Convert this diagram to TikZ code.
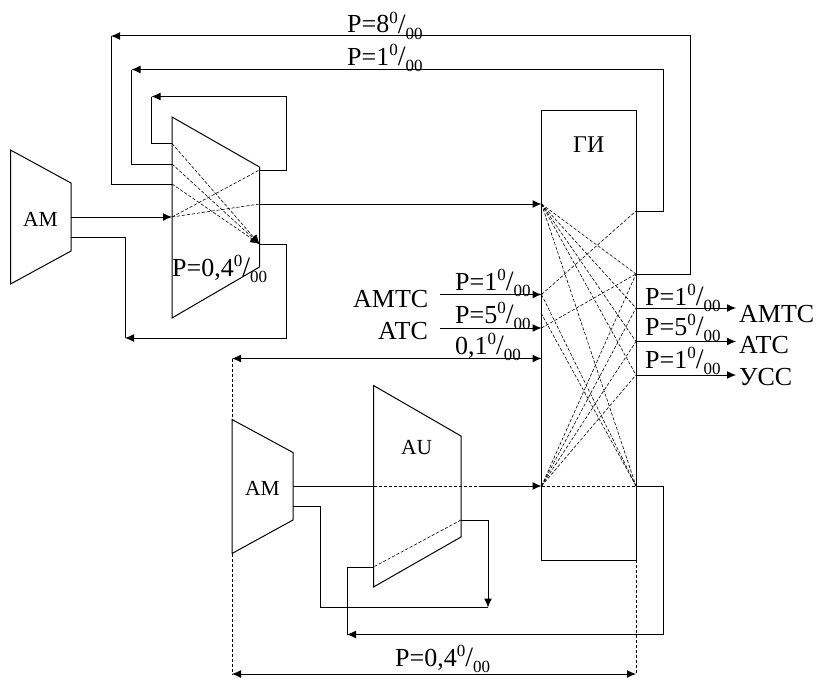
\documentclass[tikz,border=0pt]{standalone}
\usepackage{fontspec}
\setmainfont{Liberation Serif}
\usetikzlibrary{arrows.meta}
\newcommand{\pmil}[1]{#1\raisebox{.38em}{\fontsize{17}{17}\selectfont 0}\raisebox{-.02em}{\fontsize{28}{28}\selectfont /}\raisebox{-.25em}{\fontsize{17}{17}\selectfont 00}}
\tikzset{
  wire/.style={line width=1pt,draw=black},
  flow/.style={wire,-{Latex[length=9pt,width=8pt]}},
  both/.style={wire,{Latex[length=9pt,width=8pt]}-{Latex[length=9pt,width=8pt]}},
  link/.style={line width=0.6pt,draw=black,dash pattern=on 3.2pt off 1.8pt},
  guide/.style={line width=0.7pt,draw=black,dash pattern=on 3.2pt off 1.8pt},
  lab/.style={anchor=base west,inner sep=0pt,font=\fontsize{26}{26}\selectfont},
  labs/.style={anchor=base west,inner sep=0pt,font=\fontsize{21.5}{22}\selectfont},
}
\begin{document}
\begin{tikzpicture}[x=1pt,y=-1pt]
\useasboundingbox (0,0) rectangle (818,677);
% --- switching block ports
\foreach \n/\x/\y in {
  gtl/541.5/110, gtr/636/110, gbr/636/560, gbl/541.5/560,
  gi1/541.5/204, gi2/541.5/294.5, gi3/541.5/328, gi4/541.5/358.5, gi5/541.5/486, gi6/541/313,
  go1/636/211, go2/636/274, go3/636/308, go4/636/341.5, go5/636/375, go6/636/486,
  ma/172/117, mb/259.5/167, mc/259.5/267, md/172/318,
  mi1/172/143.5, mi2/172/164, mi3/172/184, mi4/172/217,
  mo1/259.5/170, mo2/259.5/204, mo3/259.5/244,
  aa/10.5/150, ab/71/183, ac/71/251, ad/10.5/284,
  ao1/71/217, ao2/71/237.5,
  ba/232/419.5, bb/293/452.5, bc/293/520, bd/232/553.5,
  bo1/293/486, bo2/293/506.5,
  ua/373.5/385.5, ub/461/436, uc/461/537, ud/373.5/587,
  ui1/373.5/486, uo1/461/486, ur/480/486, uo2/461/520, ui2/373.5/567,
  k1/690/274, k2/690/36, k3/111/36, k4/111/184,
  l1/663/211, l2/663/69.5, l3/131.5/69.5, l4/131.5/164,
  n1/286/170, n2/286/96.5, n3/151.5/96.5, n4/151.5/143.5,
  p1/125/237.5, p2/125/338, p3/286/338, p4/286/244,
  q1/320/506.5, q2/320/607.5, q3/488/607.5, q4/488/520,
  r1/663/486, r2/663/634.5, r3/347/634.5, r4/347/567,
  ia/440/294.5, ib/440/328, oa/736/308, ob/736/341.5, oc/736/375,
  da/232/358.5, dl/232/674, dr/636/674}
  {\coordinate (\n) at (\x,\y);}
% --- blocks
\draw[wire] (aa) -- (ab) -- (ac) -- (ad) -- cycle;
\draw[wire] (ma) -- (mb) -- (mc) -- (md) -- cycle;
\draw[wire] (ba) -- (bb) -- (bc) -- (bd) -- cycle;
\draw[wire] (ua) -- (ub) -- (uc) -- (ud) -- cycle;
\draw[wire] (gtl) -- (gtr) -- (gbr) -- (gbl) -- cycle;
% --- feedback loops
\draw[flow] (go2) -- (k1) -- (k2) -- (k3);
\draw[wire] (k3) -- (k4) -- (mi3);
\draw[flow] (go1) -- (l1) -- (l2) -- (l3);
\draw[wire] (l3) -- (l4) -- (mi2);
\draw[flow] (mo1) -- (n1) -- (n2) -- (n3);
\draw[wire] (n3) -- (n4) -- (mi1);
\draw[wire] (ao2) -- (p1) -- (p2);
\draw[flow] (mo3) -- (p4) -- (p3) -- (p2);
\draw[flow] (ao1) -- (mi4);
\draw[flow] (mo2) -- (gi1);
% --- lower block
\draw[wire] (bo1) -- (ui1);
\draw[link] (ui1) -- (ur);
\draw[flow] (ur) -- (gi5);
\draw[wire] (bo2) -- (q1) -- (q2) -- (q3);
\draw[flow] (uo2) -- (q4) -- (q3);
\draw[flow] (go6) -- (r1) -- (r2) -- (r3);
\draw[wire] (r3) -- (r4) -- (ui2);
\draw[link] (uo2) -- (ui2);
% --- inputs and outputs
\draw[flow] (ia) -- (gi2);
\draw[flow] (ib) -- (gi3);
\draw[both] (da) -- (gi4);
\draw[flow] (go3) -- (oa);
\draw[flow] (go4) -- (ob);
\draw[flow] (go5) -- (oc);
\draw[both] (dl) -- (dr);
\draw[guide] (da) -- (ba);
\draw[guide] (bd) -- (dl);
\draw[guide] (gbr) -- (dr);
% --- internal links, upper block
\foreach \a in {mi1,mi2,mi3}
  \draw[link,-{Latex[length=9pt,width=8pt]}] (\a) -- (mo3);
\draw[link] (mi4) -- (mo1);
\draw[link] (mi4) -- (mo2);
% --- internal links, switching block
\foreach \b in {go2,go3,go4,go5,go6}
  \draw[link] (gi1) -- (\b);
\draw[link] (gi2) -- (go1);
\draw[link] (gi2) -- (go6);
\draw[link] (gi6) -- (go6);
\draw[link] (gi3) -- (go2);
\foreach \b in {go2,go3,go4,go5,go6}
  \draw[link] (gi5) -- (\b);
% --- labels
\node[labs] (tam1) at (23,226) {AM};
\node[labs] (tam2) at (245,495) {AM};
\node[labs] (tau) at (401,454) {AU};
\node[lab,font=\fontsize{24}{24}\selectfont] (tgi) at (573,152) {ГИ};
\node[lab] (t8) at (347,33) {P=\pmil{8}};
\node[lab] (t1) at (347,65) {P=\pmil{1}};
\node[lab] (tm) at (172,276) {P=\pmil{0,4}};
\node[lab] (ti1) at (455,290) {P=\pmil{1}};
\node[lab] (ti2) at (455,323) {P=\pmil{5}};
\node[lab] (ti3) at (455,354) {\pmil{0,1}};
\node[lab] (tamtc) at (353,307) {АМТС};
\node[lab] (tatc) at (378,339) {АТС};
\node[lab] (to1) at (645,305) {P=\pmil{1}};
\node[lab] (to2) at (645,335) {P=\pmil{5}};
\node[lab] (to3) at (645,368) {P=\pmil{1}};
\node[lab] (tamtc2) at (739,322) {АМТС};
\node[lab] (tatc2) at (739,353) {АТС};
\node[lab] (tucc) at (739,385) {УСС};
\node[lab] (tb) at (395,666) {P=\pmil{0,4}};
\end{tikzpicture}
\end{document}
